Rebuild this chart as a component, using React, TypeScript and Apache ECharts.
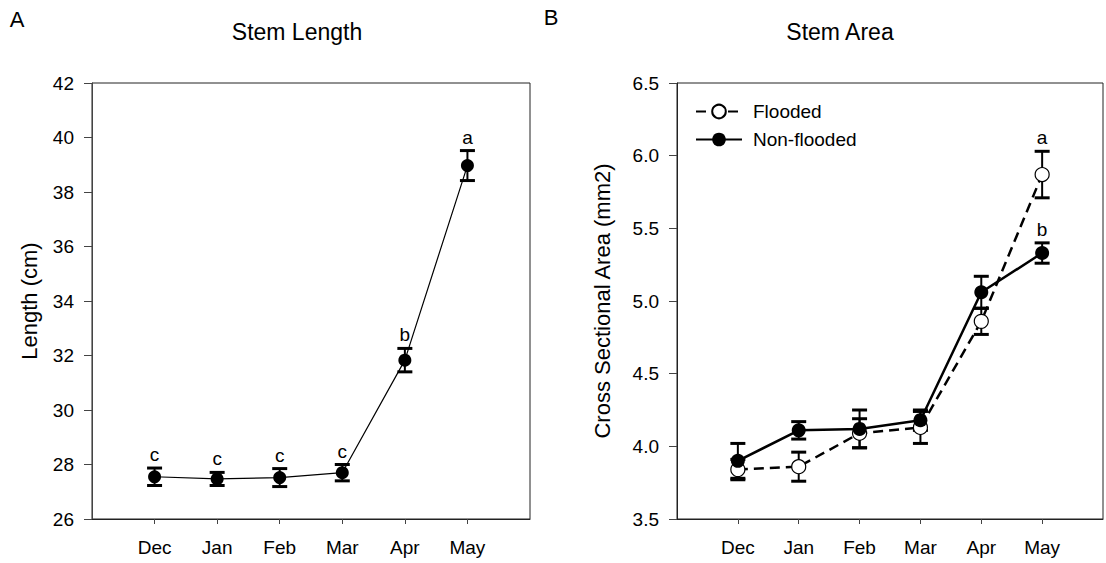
import React, { useEffect, useRef } from "react";
import * as echarts from "echarts";

const months = ["Dec", "Jan", "Feb", "Mar", "Apr", "May"];
const axisCats = ["", ...months, ""];

const lengthMean = [27.55, 27.47, 27.52, 27.7, 31.83, 38.97];
const lengthErr = [0.32, 0.24, 0.33, 0.3, 0.43, 0.55];
const lengthLetters = ["c", "c", "c", "c", "b", "a"];

const floodedMean = [3.84, 3.86, 4.09, 4.13, 4.86, 5.87];
const floodedErr = [0.07, 0.1, 0.1, 0.11, 0.09, 0.16];
const floodedLetters = ["", "", "", "", "", "a"];

const nonFloodedMean = [3.9, 4.11, 4.12, 4.18, 5.06, 5.33];
const nonFloodedErr = [0.12, 0.06, 0.13, 0.07, 0.11, 0.07];
const nonFloodedLetters = ["", "", "", "", "", "b"];

const FONT = "Liberation Sans";

function errorSeries(mean: number[], err: number[], axisIdx: number) {
  return {
    type: "custom",
    xAxisIndex: axisIdx,
    yAxisIndex: axisIdx,
    z: 1,
    silent: true,
    encode: { x: 0, y: [1, 2] },
    data: mean.map((m, i) => [i + 1, m - err[i], m + err[i]]),
    renderItem: (params: any, api: any) => {
      const x = api.value(0);
      const top = api.coord([x, api.value(2)]);
      const bot = api.coord([x, api.value(1)]);
      const hw = 7.5;
      const st = { stroke: "#000", lineWidth: 2 };
      const cap = { stroke: "#000", lineWidth: 3 };
      return {
        type: "group",
        children: [
          { type: "line", shape: { x1: top[0], y1: top[1], x2: bot[0], y2: bot[1] }, style: st },
          { type: "line", shape: { x1: top[0] - hw, y1: top[1], x2: top[0] + hw, y2: top[1] }, style: cap },
          { type: "line", shape: { x1: bot[0] - hw, y1: bot[1], x2: bot[0] + hw, y2: bot[1] }, style: cap },
        ],
      };
    },
  };
}

function letterSeries(mean: number[], err: number[], letters: string[], axisIdx: number) {
  return {
    type: "custom",
    xAxisIndex: axisIdx,
    yAxisIndex: axisIdx,
    z: 5,
    silent: true,
    encode: { x: 0, y: 1 },
    data: mean.map((m, i) => [i + 1, m + err[i]]),
    renderItem: (params: any, api: any) => {
      const p = api.coord([api.value(0), api.value(1)]);
      const t = letters[params.dataIndex];
      return {
        type: "text",
        x: p[0],
        y: p[1] - 4,
        style: { text: t, fontSize: 19, fontFamily: FONT, fill: "#000", align: "center", verticalAlign: "bottom" },
      };
    },
  };
}

function xAxisCfg(gridIndex: number) {
  return {
    type: "category",
    gridIndex,
    data: axisCats,
    boundaryGap: false,
    axisLine: { lineStyle: { color: "#222", width: 1 } },
    axisTick: { interval: (i: number, v: string) => v !== "", length: 5, lineStyle: { color: "#444" } },
    axisLabel: { interval: 0, color: "#000", fontSize: 19, fontFamily: FONT, margin: 19 },
    splitLine: { show: false },
  };
}

export default function App() {
  const ref = useRef<HTMLDivElement>(null);
  useEffect(() => {
    document.body.style.margin = "0";
    const chart = echarts.init(ref.current!, null, { renderer: "svg" });
    const option: any = {
      animation: false,
      backgroundColor: "#fff",
      textStyle: { fontFamily: FONT },
      grid: [
        { left: 92, right: 576, top: 83, bottom: 44, show: true, borderColor: "#222", borderWidth: 1 },
        { left: 677, right: -9, top: 83, bottom: 44, show: true, borderColor: "#222", borderWidth: 1 },
      ],
      xAxis: [xAxisCfg(0), xAxisCfg(1)],
      yAxis: [
        {
          type: "value",
          gridIndex: 0,
          min: 26,
          max: 42,
          interval: 2,
          name: "Length (cm)",
          nameLocation: "middle",
          nameGap: 52,
          nameTextStyle: { fontSize: 22, color: "#000", fontFamily: FONT },
          axisLine: { show: true, lineStyle: { color: "#444" } },
          axisTick: { show: true, length: 8, lineStyle: { color: "#444" } },
          axisLabel: { color: "#000", fontSize: 19, fontFamily: FONT, margin: 18 },
          splitLine: { show: false },
        },
        {
          type: "value",
          gridIndex: 1,
          min: 3.5,
          max: 6.5,
          interval: 0.5,
          name: "Cross Sectional Area (mm2)",
          nameLocation: "middle",
          nameGap: 64,
          nameTextStyle: { fontSize: 22, color: "#000", fontFamily: FONT },
          axisLine: { show: true, lineStyle: { color: "#222" } },
          axisTick: { show: true, length: 8, lineStyle: { color: "#444" } },
          axisLabel: { color: "#000", fontSize: 19, fontFamily: FONT, margin: 18, formatter: (v: number) => v.toFixed(1) },
          splitLine: { show: false },
        },
      ],
      legend: {
        data: ["Flooded", "Non-flooded"],
        orient: "vertical",
        left: 690,
        top: 97,
        itemWidth: 46,
        itemHeight: 17,
        itemGap: 9,
        textStyle: { fontSize: 19, color: "#000", fontFamily: FONT, padding: [0, 0, 0, 6] },
        selectedMode: false,
      },
      graphic: [
        { type: "text", x: 17, y: 19, style: { text: "A", fontSize: 22, fontFamily: FONT, fill: "#000", align: "center", verticalAlign: "middle" } },
        { type: "text", x: 297, y: 32, style: { text: "Stem Length", fontSize: 23, fontFamily: FONT, fill: "#000", align: "center", verticalAlign: "middle" } },
        { type: "text", x: 551, y: 17, style: { text: "B", fontSize: 22, fontFamily: FONT, fill: "#000", align: "center", verticalAlign: "middle" } },
        { type: "text", x: 840, y: 32, style: { text: "Stem Area", fontSize: 23, fontFamily: FONT, fill: "#000", align: "center", verticalAlign: "middle" } },
      ],
      series: [
        errorSeries(lengthMean, lengthErr, 0),
        {
          type: "line",
          name: "Length",
          xAxisIndex: 0,
          yAxisIndex: 0,
          z: 3,
          data: lengthMean.map((v, i) => [i + 1, v]),
          symbol: "circle",
          symbolSize: 13,
          lineStyle: { color: "#000", width: 1.2 },
          itemStyle: { color: "#000" },
        },
        letterSeries(lengthMean, lengthErr, lengthLetters, 0),
        errorSeries(floodedMean, floodedErr, 1),
        errorSeries(nonFloodedMean, nonFloodedErr, 1),
        {
          type: "line",
          name: "Flooded",
          xAxisIndex: 1,
          yAxisIndex: 1,
          z: 3,
          data: floodedMean.map((v, i) => [i + 1, v]),
          symbol: "circle",
          symbolSize: 14,
          lineStyle: { color: "#000", width: 2.5, type: [10, 6] },
          itemStyle: { color: "#fff", borderColor: "#000", borderWidth: 1.2 },
        },
        {
          type: "line",
          name: "Non-flooded",
          xAxisIndex: 1,
          yAxisIndex: 1,
          z: 3,
          data: nonFloodedMean.map((v, i) => [i + 1, v]),
          symbol: "circle",
          symbolSize: 14,
          lineStyle: { color: "#000", width: 2.5 },
          itemStyle: { color: "#000" },
        },
        letterSeries(floodedMean, floodedErr, floodedLetters, 1),
        letterSeries(nonFloodedMean, nonFloodedErr, nonFloodedLetters, 1),
      ],
    };
    chart.setOption(option);
    return () => chart.dispose();
  }, []);
  return <div ref={ref} style={{ width: 1106, height: 563 }} />;
}
